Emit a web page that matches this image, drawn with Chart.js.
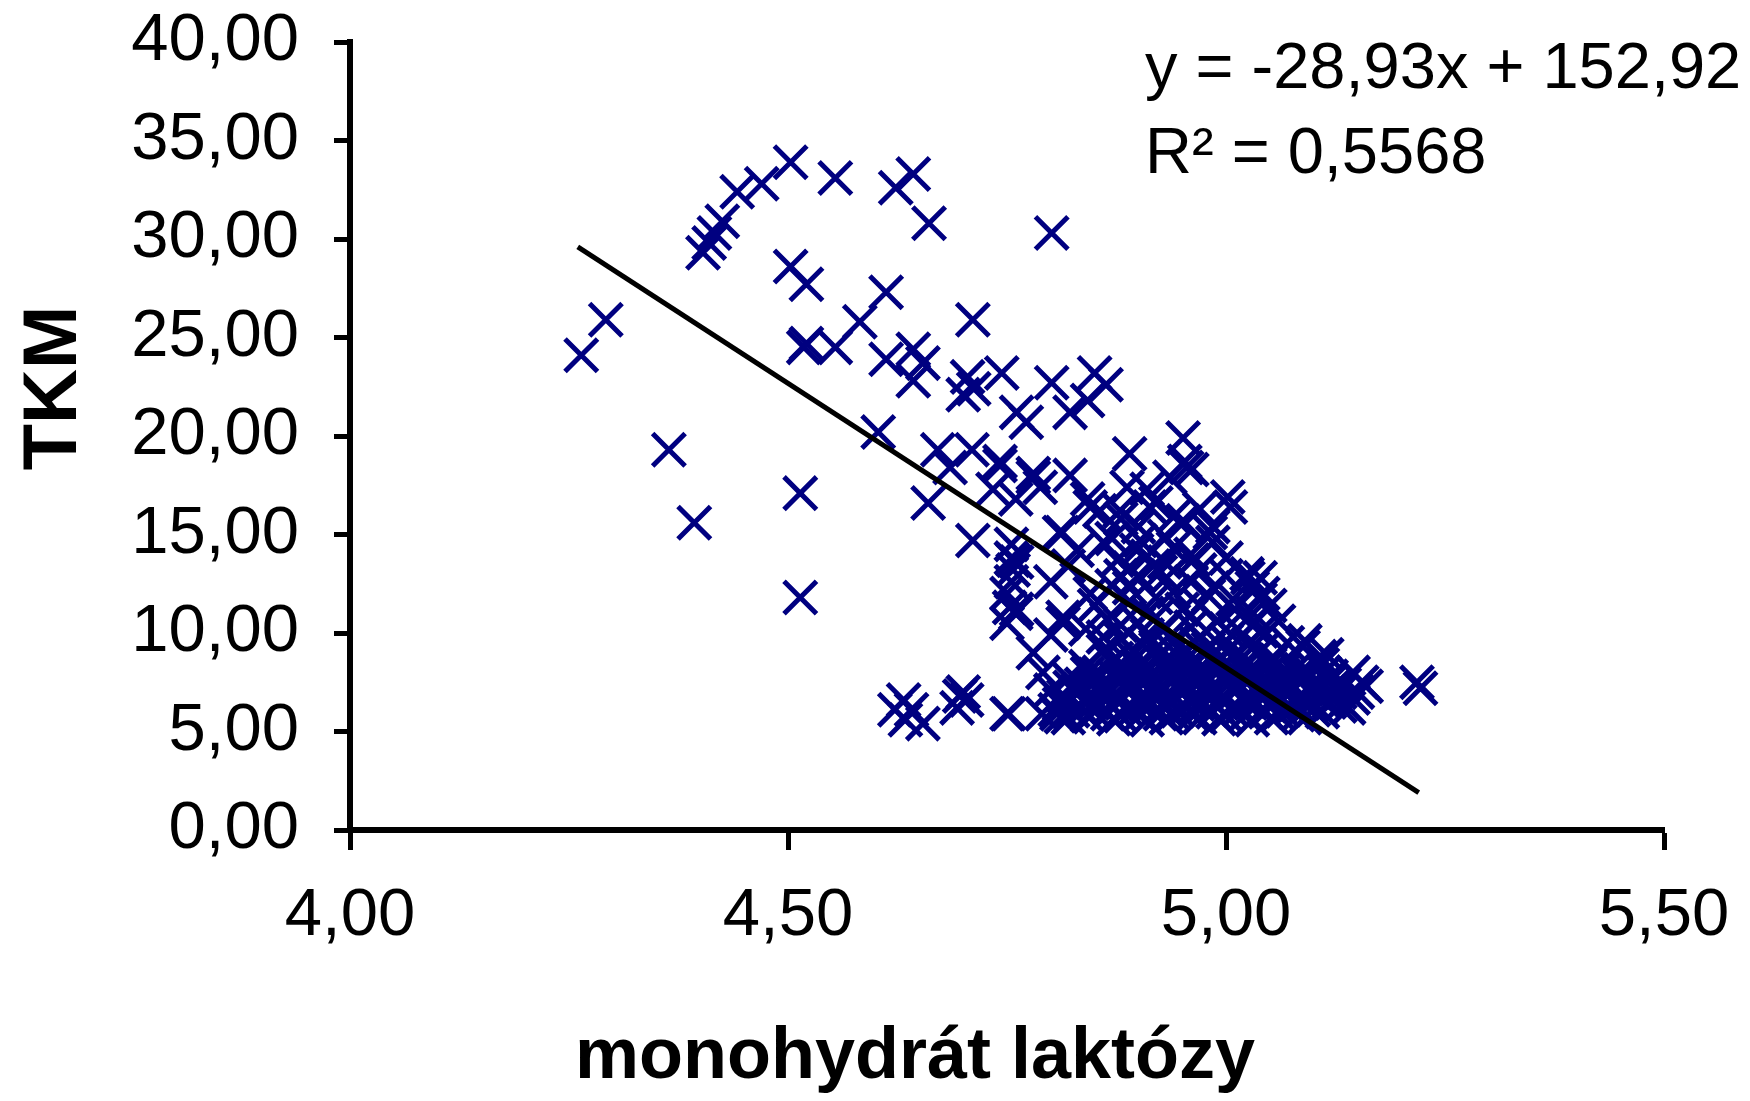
<!DOCTYPE html>
<html>
<head>
<meta charset="utf-8">
<script src="https://cdn.jsdelivr.net/npm/chart.js@4.4.1/dist/chart.umd.min.js"></script>
<style>
  html, body { margin: 0; padding: 0; background: #fff; }
  .wrap { width: 1750px; height: 1101px; position: relative; }
</style>
</head>
<body>
<div class="wrap"><canvas id="tkmChart"></canvas></div>
<script>
// axis ticks
const xTicks = [4.0, 4.5, 5.0, 5.5];
const xTickLabels = ['4,00', '4,50', '5,00', '5,50'];
const yTicks = [0, 5, 10, 15, 20, 25, 30, 35, 40];
const yTickLabels = ['0,00', '5,00', '10,00', '15,00', '20,00', '25,00', '30,00', '35,00', '40,00'];

const xTitle = 'monohydrát laktózy';
const yTitle = 'TKM';
const equation = ['y = -28,93x + 152,92', 'R² = 0,5568'];

// scattered points, upper left part  [lactose, TKM]
const outerPoints = [
	[4.264, 24.1], [4.292, 25.9], [4.364, 19.3], [4.393, 15.6],
	[4.403, 29.3], [4.410, 29.8], [4.416, 30.3], [4.425, 30.9],
	[4.442, 32.4], [4.470, 32.8], [4.503, 33.9], [4.554, 33.1],
	[4.623, 32.6], [4.643, 33.3], [4.661, 30.8],
	[4.503, 28.6], [4.521, 27.7], [4.612, 27.3], [4.582, 25.8],
	[4.521, 24.7], [4.518, 24.5], [4.554, 24.5], [4.711, 25.9],
	[4.612, 23.9], [4.643, 24.4], [4.654, 23.7], [4.643, 22.8],
	[4.705, 23.0], [4.712, 22.4], [4.700, 22.1], [4.744, 23.2],
	[4.603, 20.2], [4.671, 19.3], [4.710, 19.3], [4.742, 18.7], [4.761, 21.2],
	[4.801, 30.3], [4.801, 22.7], [4.850, 23.2], [4.863, 22.6], [4.842, 21.8],
	[4.822, 21.2], [4.772, 20.7],
	[4.514, 17.1], [4.514, 11.8], [4.660, 16.6], [4.685, 18.4], [4.734, 17.3], [4.711, 14.7],
	[4.622, 6.1], [4.632, 6.6], [4.641, 6.1], [4.654, 5.4], [4.634, 5.6],
	[4.696, 6.8], [4.693, 6.2], [4.704, 6.6], [4.700, 7.0], [4.750, 5.9]
];

// middle band
const midPoints = [
	[4.890, 19.1], [4.951, 19.9], [4.953, 18.7], [4.936, 17.9], [4.961, 18.3], [5.002, 16.9],
	[4.780, 18.1], [4.822, 18.0], [4.788, 17.4], [4.887, 17.4], [4.842, 16.8],
	[4.742, 18.5], [4.780, 17.9], [4.813, 15.1], [4.845, 16.4], [4.955, 18.4], [4.951, 15.7],
	[4.982, 15.1], [4.910, 17.3], [4.879, 16.2], [4.902, 14.7], [4.962, 13.7], [4.985, 12.3],
	[5.008, 11.7], [5.031, 11.0], [5.046, 10.0], [5.025, 12.8], [5.042, 12.0], [4.898, 14.2],
	[4.917, 13.4], [4.932, 12.8], [4.876, 13.7], [4.761, 13.6], [4.761, 11.2], [4.814, 10.8],
	[4.864, 10.7], [4.890, 12.3], [4.791, 8.0], [4.845, 12.0],
	[5.005, 16.4], [4.951, 15.6], [4.985, 15.4], [4.985, 14.6], [4.913, 16.4], [4.856, 16.2],
	[4.810, 15.1], [4.760, 16.8], [4.760, 11.0], [4.757, 13.7], [4.814, 10.5],
	[5.039, 12.8], [5.024, 13.0], [5.039, 11.7],
	[4.755, 14.5], [4.755, 13.8], [4.757, 13.2], [4.755, 12.6], [4.750, 12.0], [4.753, 11.3], [4.750, 10.5],
	[4.752, 5.9], [4.807, 5.9],
	[4.83, 14.2], [4.87, 14.8], [4.93, 14.9], [4.96, 14.0], [5.00, 13.8], [4.88, 12.9],
	[4.94, 12.1], [4.97, 11.4], [4.91, 11.0], [4.85, 11.4], [4.80, 12.6], [4.82, 13.4],
	[4.99, 10.6], [5.02, 9.9], [4.93, 10.2], [4.86, 9.8], [4.80, 9.9], [4.78, 9.0],
	[5.06, 10.6], [5.07, 9.5], [4.91, 13.9], [4.925, 13.1], [4.94, 14.3],
	[4.89, 11.6], [4.92, 11.8], [4.95, 11.2], [4.98, 11.9], [5.01, 11.2], [4.87, 12.4],
	[4.90, 12.9], [4.96, 12.6], [5.00, 12.9], [4.93, 13.6], [4.97, 13.2], [4.89, 13.3],
	[4.86, 14.6], [4.90, 15.4], [4.94, 15.9], [4.88, 15.8], [4.92, 16.6], [4.97, 16.3],
	[5.03, 12.3], [5.05, 11.4], [4.84, 10.2], [4.88, 10.4], [4.92, 10.8], [4.96, 10.9],
	[5.00, 10.2], [5.04, 10.1]
];

// right tail
const tailPoints = [
	[5.218, 7.5], [5.222, 7.2], [5.155, 7.5], [5.145, 8.0], [5.107, 8.8], [5.088, 9.3],
	[5.090, 9.6], [5.115, 8.9], [5.150, 7.0], [5.140, 6.2], [5.125, 6.8]
];

// dense core
const corePoints = [
	[4.79, 5.9], [4.82, 5.7], [4.85, 6.0], [4.88, 5.8], [4.91, 5.6], [4.94, 5.9],
	[4.97, 5.7], [5.00, 5.8], [5.03, 5.6], [5.06, 5.9], [5.09, 5.7], [5.11, 6.0],
	[4.81, 6.4], [4.84, 6.6], [4.87, 6.3], [4.90, 6.5], [4.93, 6.2], [4.96, 6.5],
	[4.99, 6.3], [5.02, 6.6], [5.05, 6.3], [5.08, 6.4], [5.11, 6.6], [5.13, 6.3],
	[4.80, 7.1], [4.83, 6.9], [4.86, 7.2], [4.89, 7.0], [4.92, 7.3], [4.95, 6.9], [4.98, 7.1],
	[5.01, 7.2], [5.04, 6.9], [5.07, 7.1], [5.10, 7.2], [5.13, 7.0], [5.16, 7.3],
	[4.82, 7.7], [4.85, 7.5], [4.88, 7.8], [4.91, 7.6], [4.94, 7.8], [4.97, 7.5],
	[5.00, 7.7], [5.03, 7.8], [5.06, 7.5], [5.09, 7.7], [5.12, 7.6],
	[4.84, 8.3], [4.87, 8.5], [4.90, 8.2], [4.93, 8.4], [4.96, 8.2], [4.99, 8.5],
	[5.02, 8.3], [5.05, 8.4], [5.08, 8.2], [5.11, 8.4],
	[4.86, 9.1], [4.89, 8.9], [4.92, 9.2], [4.95, 9.0], [4.98, 9.2], [5.01, 8.9], [5.04, 9.1],
	[4.88, 9.7], [4.91, 9.9], [4.94, 9.6], [4.97, 9.8], [5.00, 9.6],
	[4.90, 10.5], [4.96, 10.3], [5.03, 10.4],
	[4.805, 6.1], [4.835, 6.2], [4.865, 5.9], [4.895, 6.1], [4.925, 5.9], [4.955, 6.2],
	[4.985, 6.0], [5.015, 6.1], [5.045, 6.0], [5.075, 6.2], [5.10, 6.1],
	[4.815, 6.8], [4.845, 6.9], [4.875, 6.7], [4.905, 6.9], [4.935, 6.7], [4.965, 6.8],
	[4.995, 6.7], [5.025, 6.9], [5.055, 6.7], [5.085, 6.8], [5.115, 6.9], [5.145, 6.7],
	[4.835, 7.4], [4.865, 7.3], [4.895, 7.4], [4.925, 7.2], [4.955, 7.4], [4.985, 7.3],
	[5.015, 7.4], [5.045, 7.3], [5.075, 7.4], [5.105, 7.3], [5.135, 7.4],
	[4.855, 8.0], [4.885, 8.1], [4.915, 7.9], [4.945, 8.1], [4.975, 8.0], [5.005, 8.1],
	[5.035, 8.0], [5.065, 8.1], [5.095, 8.0],
	[4.875, 8.7], [4.905, 8.6], [4.935, 8.8], [4.965, 8.7], [4.995, 8.8], [5.025, 8.6], [5.055, 8.7],
	[4.905, 9.4], [4.935, 9.3], [4.965, 9.5], [4.995, 9.3], [5.025, 9.4],
	[4.825, 6.05], [4.855, 6.35], [4.885, 6.15], [4.915, 6.35], [4.945, 6.05], [4.975, 6.35],
	[5.005, 6.15], [5.035, 6.35], [5.065, 6.05], [5.095, 6.35],
	[4.83, 7.05], [4.86, 6.75], [4.89, 7.25], [4.92, 6.85], [4.95, 7.15], [4.98, 6.75],
	[5.01, 7.0], [5.04, 7.25], [5.07, 6.85], [5.10, 7.0],
	[4.85, 7.9], [4.88, 7.55], [4.91, 8.05], [4.94, 7.6], [4.97, 8.0], [5.00, 7.55],
	[5.03, 8.05], [5.06, 7.7], [5.09, 8.05], [5.12, 7.8],
	[4.87, 8.55], [4.90, 8.85], [4.93, 8.55], [4.96, 8.9], [4.99, 8.6], [5.02, 8.8], [5.05, 8.55],
	[4.812, 5.75], [4.842, 5.8], [4.872, 5.65], [4.902, 5.85], [4.932, 5.7], [4.962, 5.85],
	[4.992, 5.65], [5.022, 5.85], [5.052, 5.7], [5.082, 5.85],
	[4.818, 6.55], [4.848, 6.45], [4.878, 6.6], [4.908, 6.4], [4.938, 6.55], [4.968, 6.4],
	[4.998, 6.55], [5.028, 6.45], [5.058, 6.55], [5.088, 6.45], [5.118, 6.5],
	[4.822, 7.25], [4.852, 7.15], [4.882, 7.3], [4.912, 7.1], [4.942, 7.3], [4.972, 7.2],
	[5.002, 7.35], [5.032, 7.1], [5.062, 7.3], [5.092, 7.15], [5.122, 7.25],
	[4.842, 7.95], [4.872, 7.8], [4.902, 7.95], [4.932, 8.15], [4.962, 7.85], [4.992, 8.15],
	[5.022, 7.9], [5.052, 8.15], [5.082, 7.85], [5.112, 8.0]
];

// trend line ends
const trendX = [4.26, 5.22];
const trendY = [29.6, 1.9];

const allPoints = outerPoints.concat(midPoints, tailPoints, corePoints)
	.map(p => ({ x: p[0], y: p[1] }));
const trendPoints = trendX.map((x, i) => ({ x: x, y: trendY[i] }));

const FONT = '"Liberation Sans", Arial, sans-serif';

// pick a font size so the text takes the given width
function fitFont(c, text, weight, width) {
	c.font = weight + ' 100px ' + FONT;
	const size = Math.floor(100 * width / c.measureText(text).width);
	return weight + ' ' + size + 'px ' + FONT;
}

// axis titles and regression text drawn at fixed spots like in the original
const textPlugin = {
	id: 'textPlugin',
	afterDraw(chart) {
		const c = chart.ctx;
		c.save();
		c.fillStyle = '#000';
		c.textBaseline = 'alphabetic';

		c.font = fitFont(c, xTitle, 'bold', 685);
		c.textAlign = 'center';
		c.fillText(xTitle, 915, 1078);

		c.save();
		c.font = 'bold 76px ' + FONT;
		c.translate(76, 388);
		c.rotate(-Math.PI / 2);
		c.fillText(yTitle, 0, 0);
		c.restore();

		c.font = fitFont(c, equation[0], 'normal', 598);
		c.textAlign = 'left';
		c.fillText(equation[0], 1145, 88);
		c.fillText(equation[1], 1145, 173);
		c.restore();
	}
};

const ctx = document.getElementById('tkmChart').getContext('2d');

new Chart(ctx, {
	type: 'scatter',
	data: {
		datasets: [
			{
				label: 'trend',
				data: trendPoints,
				showLine: true,
				borderColor: '#000',
				borderWidth: 5,
				pointRadius: 0,
				fill: false,
				order: 0,
			},
			{
				label: 'TKM',
				data: allPoints,
				pointStyle: 'crossRot',
				pointRadius: 23,
				pointBorderWidth: 5,
				borderColor: '#000080',
				backgroundColor: '#000080',
				order: 1,
			},
		],
	},
	options: {
		responsive: true,
		maintainAspectRatio: false,
		animation: false,
		layout: { padding: { top: 42, right: 86, left: 0, bottom: 0 } },
		plugins: {
			legend: { display: false },
			tooltip: { enabled: false },
		},
		scales: {
			x: {
				type: 'linear',
				min: 4,
				max: 5.5,
				afterFit: s => { s.height = 271; s.paddingLeft = 0; s.paddingRight = 0; },
				afterBuildTicks: s => { s.ticks = xTicks.map(v => ({ value: v })); },
				border: { color: '#000', width: 6 },
				grid: { drawOnChartArea: false, drawTicks: true, tickLength: 20, tickWidth: 5, tickColor: '#000', color: '#000' },
				ticks: {
					padding: 26,
					color: '#000',
					font: { family: FONT, size: 67 },
					maxRotation: 0,
					callback: v => xTickLabels[xTicks.indexOf(v)],
				},
			},
			y: {
				type: 'linear',
				min: 0,
				max: 40,
				afterFit: s => { s.width = 350; s.paddingTop = 0; s.paddingBottom = 0; },
				afterBuildTicks: s => { s.ticks = yTicks.map(v => ({ value: v })); },
				border: { color: '#000', width: 6 },
				grid: { drawOnChartArea: false, drawTicks: true, tickLength: 16, tickWidth: 5, tickColor: '#000', color: '#000' },
				ticks: {
					padding: 35,
					color: '#000',
					font: { family: FONT, size: 67 },
					callback: v => yTickLabels[yTicks.indexOf(v)],
				},
			},
		},
	},
	plugins: [textPlugin],
});
</script>
</body>
</html>
